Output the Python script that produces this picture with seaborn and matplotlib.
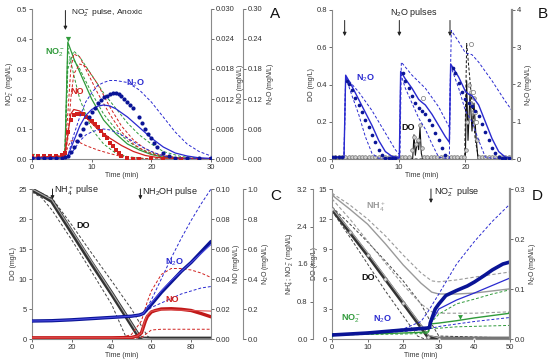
import numpy as np
import pandas as pd
import matplotlib
matplotlib.use("Agg")
import matplotlib.pyplot as plt
from matplotlib.ticker import FormatStrFormatter
import seaborn as sns

sns.set_style("ticks")
plt.rcParams['font.family'] = ['Liberation Sans', 'DejaVu Sans']
plt.rcParams['mathtext.fontset'] = 'custom'
plt.rcParams['mathtext.rm'] = 'Liberation Sans'
plt.rcParams['mathtext.it'] = 'Liberation Sans'
plt.rcParams['mathtext.bf'] = 'Liberation Sans:bold'

GREEN = '#2f9a3a'
RED = '#d0201e'
BLUE = '#2a2ad0'
DBLUE = '#0a1496'
GRAY = '#9a9a9a'
BLACK = '#111111'

# ---------------- Panel A (NO2- pulse, anoxic) ----------------
A_t_no2_meas = [0, 6]
A_no2_meas = [0.01, 0.40]
A_t_mod = [0, 5.5, 6, 7, 8, 10, 12, 14, 16, 18, 20, 22, 25, 30]
A_no2_mod = [0.005, 0.005, 0.39, 0.335, 0.29, 0.20, 0.13, 0.085, 0.05, 0.03, 0.015, 0.006, 0.002, 0]
A_no2_hi = [0.005, 0.005, 0.30, 0.36, 0.34, 0.28, 0.22, 0.17, 0.12, 0.08, 0.05, 0.025, 0.008, 0]
A_no2_mid = [0.005, 0.005, 0.33, 0.33, 0.30, 0.22, 0.15, 0.10, 0.06, 0.035, 0.02, 0.01, 0.003, 0]
A_no2_lo = [0.005, 0.005, 0.37, 0.28, 0.20, 0.10, 0.05, 0.02, 0.008, 0.003, 0, 0, 0, 0]

A_t_no_meas = [0, 1, 2, 3, 4, 5, 5.5, 6, 6.5, 7, 7.5, 8, 8.5, 9, 9.5, 10, 10.5, 11, 11.5, 12,
               12.5, 13, 13.5, 14, 14.5, 15, 16, 17, 18, 20, 22, 25, 28, 30]
A_no_meas = [0.0006, 0.0006, 0.0006, 0.0006, 0.0007, 0.0009, 0.0012, 0.0054, 0.0078, 0.0087,
             0.009, 0.009, 0.0089, 0.0084, 0.0081, 0.0075, 0.0069, 0.0063, 0.0057, 0.0048,
             0.0042, 0.0033, 0.0027, 0.0018, 0.0012, 0.0006, 0.0003, 0.0001, 0, 0, 0, 0, 0, 0]
A_t_no_mod = [0, 5.5, 6, 6.5, 7, 8, 9, 11, 13, 15, 17, 19, 21, 24, 30]
A_no_mod = [0.0003, 0.0006, 0.0048, 0.009, 0.0099, 0.0096, 0.0084, 0.006, 0.0042, 0.0027,
            0.0015, 0.0007, 0.0003, 0.0001, 0]
A_no_hi = [0.0003, 0.0006, 0.009, 0.018, 0.021, 0.0204, 0.018, 0.0132, 0.009, 0.0054,
           0.003, 0.0015, 0.0007, 0.0002, 0]
A_no_mid = [0.0003, 0.0006, 0.004, 0.012, 0.017, 0.019, 0.0185, 0.015, 0.0105, 0.0066,
            0.0038, 0.002, 0.001, 0.0003, 0]
A_no_lo = [0.0003, 0.0006, 0.0024, 0.0036, 0.0037, 0.0033, 0.0027, 0.0018, 0.0011, 0.0005,
           0.0002, 0.0001, 0, 0, 0]

A_t_n2o_meas = [0, 1, 2, 3, 4, 5, 5.5, 6, 6.5, 7, 7.5, 8, 8.5, 9, 9.5, 10, 10.5, 11, 11.5, 12,
                12.5, 13, 13.5, 14, 14.5, 15, 15.5, 16, 16.5, 17, 18, 18.5, 19, 19.5, 20, 20.5,
                21, 22, 23, 24, 26, 28, 30]
A_n2o_meas = [0.003, 0.003, 0.003, 0.003, 0.003, 0.003, 0.0036, 0.006, 0.015, 0.024, 0.036,
              0.048, 0.06, 0.072, 0.084, 0.093, 0.102, 0.111, 0.117, 0.123, 0.126, 0.129, 0.132,
              0.132, 0.129, 0.126, 0.12, 0.114, 0.108, 0.102, 0.084, 0.072, 0.06, 0.051, 0.042,
              0.033, 0.024, 0.012, 0.006, 0.003, 0.0024, 0.0024, 0.0024]
A_t_n2o_mod = [0, 5.5, 6, 7, 8, 9, 10, 11, 12, 13, 14, 16, 18, 20, 22, 24, 26, 28, 30]
A_n2o_mod = [0.0018, 0.0018, 0.006, 0.036, 0.066, 0.087, 0.099, 0.1056, 0.108, 0.1062, 0.1008,
             0.084, 0.063, 0.042, 0.024, 0.012, 0.006, 0.0024, 0.0012]
A_n2o_hi = [0.0018, 0.0018, 0.006, 0.048, 0.084, 0.114, 0.132, 0.147, 0.153, 0.157, 0.157,
            0.153, 0.138, 0.114, 0.084, 0.054, 0.03, 0.015, 0.006]
A_n2o_lo = [0.0018, 0.0018, 0.003, 0.018, 0.036, 0.048, 0.054, 0.0582, 0.06, 0.0582, 0.054,
            0.042, 0.027, 0.015, 0.006, 0.0024, 0.0012, 0.0006, 0]

# ---------------- Panel B (N2O pulses) ----------------
B_t_mod = [0, 1.8, 2.05, 3, 4, 5, 6, 7, 8, 9, 10.1, 10.3, 11, 12, 13, 13.5, 14, 15, 16, 17,
           17.6, 17.8, 19, 20, 20.5, 21, 22, 23, 24, 25, 26, 27]
B_n2o_mod = [0.05, 0.05, 2.25, 1.95, 1.6, 1.25, 0.9, 0.5, 0.2, 0.07, 0.04, 2.35, 2.15, 1.9, 1.6,
             1.52, 1.45, 1.2, 0.9, 0.6, 0.45, 2.55, 2.2, 1.82, 1.74, 1.7, 1.45, 1.0, 0.55, 0.2,
             0.05, 0.03]
B_t_meas = [0, 0.5, 1, 1.5, 2.3, 2.6, 3, 3.5, 4, 4.5, 5, 5.5, 6, 6.5, 7, 7.5, 8, 8.5, 9, 9.5,
            10.6, 11, 11.5, 12, 12.5, 13, 13.5, 14, 14.5, 15, 15.5, 16, 16.5, 17,
            18.1, 18.5, 19, 19.5, 20, 20.5, 21, 21.5, 22, 22.5, 23, 23.5, 24, 24.5, 25, 25.5, 26, 26.5]
B_n2o_meas = [0.05, 0.05, 0.05, 0.05, 2.1, 2.0, 1.85, 1.65, 1.45, 1.25, 1.05, 0.85, 0.65, 0.45,
              0.25, 0.1, 0.03, 0.02, 0.02, 0.02,
              2.3, 2.1, 1.9, 1.7, 1.5, 1.38, 1.3, 1.2, 1.05, 0.9, 0.7, 0.5, 0.3, 0.12,
              2.45, 2.3, 2.05, 1.8, 1.6, 1.5, 1.42, 1.3, 1.15, 0.95, 0.72, 0.5, 0.3, 0.15, 0.05,
              0.02, 0.02, 0.02]
B_t_hi = [0, 1.8, 2.05, 4, 6, 8, 9.5, 10.2, 10.4, 12, 14, 16, 17.6, 17.9, 19, 20, 21, 22, 24, 26, 27]
B_n2o_hi = [0.05, 0.05, 2.2, 1.8, 1.3, 0.7, 0.25, 0.1, 2.6, 2.25, 1.9, 1.4, 0.85, 3.45, 3.15,
            2.85, 2.8, 2.6, 2.1, 1.55, 1.3]
B_t_lo = [0, 1.8, 2.05, 3, 4, 5, 6, 7, 10.1, 10.3, 11, 12, 13, 14, 15, 16, 17, 17.6, 17.8, 19,
          20, 21, 22, 23, 24, 27]
B_n2o_lo = [0.05, 0.05, 2.2, 1.7, 1.2, 0.6, 0.15, 0.02, 0.02, 2.3, 1.9, 1.5, 1.1, 0.8, 0.4, 0.05,
            0.02, 0.02, 2.5, 1.9, 1.3, 1.0, 0.5, 0.05, 0.02, 0.02]
B_t_do = [0, 0.5, 1, 1.5, 2, 2.5, 3, 3.5, 4, 4.5, 5, 5.5, 6, 6.5, 7, 7.5, 8, 8.5, 9, 9.5, 10,
          10.5, 11, 11.5, 12.0, 12.3, 12.6, 12.9, 13.2, 13.5, 13.8, 14.3, 14.8, 15.3, 15.8, 16.3,
          16.8, 17.3, 17.8, 18.3, 18.8, 19.3, 19.8, 20.1, 20.3, 20.5, 20.7, 20.9, 21.1, 21.3,
          21.5, 21.7, 22.0, 22.5, 23, 23.5, 24, 24.5, 25, 25.5, 26, 26.5]
B_do_meas = [0.01] * 24 + [0.05, 0.12, 0.08, 0.10, 0.18, 0.06, 0.01] + [0.01] * 12 + \
            [0.05, 0.2, 0.4, 0.3, 0.36, 0.25, 0.33, 0.2, 0.1] + [0.01] * 10
B_t_do_mod = [0, 12.1, 12.3, 12.5, 12.8, 13.0, 13.2, 13.4, 13.6, 20.0, 20.2, 20.4, 20.7, 21.0,
              21.3, 21.6, 21.9, 27]
B_do_mod = [0, 0, 0.13, 0.02, 0.1, 0.05, 0.17, 0.03, 0, 0, 0.42, 0.1, 0.35, 0.15, 0.3, 0.12, 0, 0]
B_t_do_hi = [0, 19.9, 20.2, 20.5, 21.0, 21.5, 22, 27]
B_do_hi = [0, 0, 0.62, 0.5, 0.3, 0.1, 0, 0]
B_t_oc = [13.6, 20.8, 21.1, 21.4, 21.6]
B_do_oc = [0.33, 0.62, 0.36, 0.25, 0.2]

# ---------------- Panel C (NH4+ then NH2OH pulse) ----------------
C_t_do = [0, 5, 10, 20, 30, 40, 50, 54, 56, 60, 70, 80, 90]
C_do_meas = [24.9, 24.0, 23.0, 17.8, 12.6, 7.6, 2.4, 0.3, 0.05, 0.05, 0.05, 0.05, 0.05]
C_do_mod = [25.0, 24.1, 23.2, 18.1, 12.9, 7.8, 2.6, 0.5, 0.1, 0, 0, 0, 0]
C_t_do_hi = [0, 10, 20, 30, 40, 50, 58, 60, 90]
C_do_hi = [25, 23.5, 19, 14.3, 9.7, 5, 0.5, 0, 0]
C_t_do_lo = [0, 5, 10, 20, 30, 40, 47, 50, 90]
C_do_lo = [24.5, 23.5, 21.5, 16.5, 11.2, 5.8, 0.5, 0, 0]
C_t_n2o = [0, 10, 20, 30, 40, 50, 54, 56, 58, 60, 65, 70, 75, 80, 85, 90]
C_n2o_meas = [0.12, 0.122, 0.128, 0.136, 0.144, 0.152, 0.16, 0.17, 0.2, 0.23, 0.31, 0.38, 0.45,
              0.51, 0.58, 0.65]
C_n2o_mod = [0.12, 0.122, 0.128, 0.136, 0.144, 0.152, 0.16, 0.17, 0.21, 0.24, 0.32, 0.39, 0.45,
             0.51, 0.57, 0.63]
C_t_n2o_d = [50, 56, 60, 65, 70, 75, 80, 85, 90]
C_n2o_hi = [0.15, 0.17, 0.26, 0.40, 0.54, 0.67, 0.79, 0.90, 1.0]
C_n2o_lo = [0.15, 0.17, 0.21, 0.24, 0.27, 0.30, 0.32, 0.34, 0.35]
C_t_no = [0, 10, 20, 30, 40, 50, 53, 55, 56, 57, 58, 60, 62, 65, 70, 75, 80, 85, 90]
C_no_meas = [0.0008, 0.0008, 0.0008, 0.0008, 0.0008, 0.001, 0.002, 0.004, 0.008, 0.012, 0.015,
             0.018, 0.019, 0.02, 0.0202, 0.0198, 0.019, 0.017, 0.0148]
C_no_mod = [0.0008, 0.0008, 0.0008, 0.0008, 0.0008, 0.001, 0.002, 0.004, 0.009, 0.013, 0.016,
            0.0185, 0.019, 0.0195, 0.0195, 0.0192, 0.019, 0.0188, 0.0186]
C_t_no_hi = [45, 50, 55, 58, 60, 65, 70, 75, 80, 85, 90]
C_no_hi = [0.001, 0.003, 0.012, 0.025, 0.032, 0.043, 0.047, 0.047, 0.046, 0.044, 0.041]
C_t_no_lo = [50, 55, 58, 60, 65, 70, 80, 90]
C_no_lo = [0.0005, 0.001, 0.004, 0.006, 0.0065, 0.0065, 0.0065, 0.0065]

# ---------------- Panel D (NO2- pulse, aerobic) ----------------
D_t_do = [0, 5, 10, 15, 20, 25, 27, 30, 40, 50]
D_do_meas = [13.0, 10.7, 8.4, 6.0, 3.6, 1.2, 0.2, 0.05, 0.05, 0.05]
D_do_mod = [13.1, 10.9, 8.6, 6.2, 3.8, 1.4, 0.4, 0.1, 0.1, 0.1]
D_t_do_hi = [0, 5, 10, 15, 20, 25, 28, 30, 50]
D_do_hi = [13.2, 11.5, 9.7, 7.8, 5.8, 3.5, 1.5, 0.3, 0.1]
D_t_do_lo = [0, 5, 10, 15, 20, 24, 26, 50]
D_do_lo = [12.8, 10.2, 7.5, 4.8, 2.3, 0.3, 0, 0]
D_t_n = [0, 5, 10, 15, 20, 25, 28, 30, 35, 40, 50]
D_nh4_mod = [3.07, 2.77, 2.45, 2.03, 1.58, 1.19, 1.0, 0.96, 0.96, 0.98, 1.07]
D_nh4_hi = [3.11, 2.86, 2.56, 2.2, 1.79, 1.41, 1.24, 1.22, 1.26, 1.32, 1.43]
D_nh4_lo = [2.99, 2.56, 2.09, 1.62, 1.15, 0.75, 0.58, 0.55, 0.55, 0.55, 0.58]
D_t_nh4_meas = [0]
D_nh4_meas = [3.1]
D_t_no2 = [0, 10, 20, 27, 27.5, 30, 35, 40, 45, 50]
D_no2_mod = [0.085, 0.107, 0.128, 0.149, 0.32, 0.34, 0.39, 0.45, 0.5, 0.55]
D_no2_hi = [0.085, 0.128, 0.171, 0.213, 0.32, 0.53, 0.75, 0.85, 0.96, 1.05]
D_no2_lo = [0.085, 0.096, 0.107, 0.117, 0.23, 0.23, 0.26, 0.27, 0.28, 0.29]
D_t_no2_meas = [0, 36, 50]
D_no2_meas = [0.085, 0.47, 0.53]
D_t_n2o = [0, 5, 10, 15, 20, 25, 27, 27.4, 27.6, 29, 30, 32, 35, 38, 40, 43, 45, 48, 50]
D_n2o_meas = [0.008, 0.01, 0.012, 0.015, 0.018, 0.021, 0.022, 0.023, 0.032, 0.06, 0.07, 0.087,
              0.097, 0.106, 0.114, 0.128, 0.138, 0.15, 0.154]
D_t_n2o_m = [0, 20, 27, 28, 30, 35, 40, 45, 50]
D_n2o_mod = [0.008, 0.018, 0.022, 0.035, 0.06, 0.078, 0.092, 0.107, 0.122]
D_t_n2o_hi = [0, 10, 20, 25, 27, 30, 35, 40, 45, 50]
D_n2o_hi = [0.008, 0.012, 0.02, 0.035, 0.055, 0.09, 0.15, 0.195, 0.235, 0.27]
D_t_n2o_lo = [0, 20, 27, 30, 40, 50]
D_n2o_lo = [0.008, 0.015, 0.02, 0.025, 0.035, 0.043]

# ---------------- helpers ----------------
W, H = 554, 364


def rect(l, t, r, b):
    return [l / W, 1 - b / H, (r - l) / W, (b - t) / H]


DASH = (0, (3, 2))


def line(ax, x, y, color, ls='-', lw=0.9, z=2):
    sns.lineplot(x=x, y=y, ax=ax, color=color, linestyle=ls, linewidth=lw,
                 estimator=None, sort=False, legend=False, zorder=z)


def pts(ax, x, y, color, marker='o', s=5, fc=None, z=3):
    sns.scatterplot(x=x, y=y, ax=ax, color=color if fc is None else fc, marker=marker, s=s,
                    edgecolor=color, linewidth=0.5 if fc is not None else 0, legend=False,
                    zorder=z)


def style_base(ax):
    ax.spines['top'].set_visible(False)
    ax.spines['right'].set_visible(False)
    for s in ('left', 'bottom'):
        ax.spines[s].set_color('#8a8a8a')
        ax.spines[s].set_linewidth(0.8)
    ax.tick_params(labelsize=5.5, length=2, width=0.6, colors='#555', labelcolor='#333', pad=1.5)
    ax.set_xlabel('Time (min)', fontsize=5, labelpad=0.5, color='#333')


def style_twin(ax, side='right', lw=0.8):
    for s in ('top', 'bottom', 'left', 'right'):
        ax.spines[s].set_visible(s == side)
    ax.spines[side].set_color('#8a8a8a')
    ax.spines[side].set_linewidth(lw)
    ax.tick_params(labelsize=5.5, length=2, width=0.6, colors='#555', labelcolor='#333', pad=1.5)


def ylab(ax, txt, pad=1.5):
    ax.set_ylabel(txt, fontsize=5, labelpad=pad, color='#333')


def arrow(ax, x, y0, y1):
    ax.annotate('', xy=(x, y1), xytext=(x, y0),
                arrowprops=dict(arrowstyle='-|>', lw=0.7, color='#222',
                                mutation_scale=5, shrinkA=0, shrinkB=0))


fig = plt.figure(figsize=(W / 100, H / 100), dpi=100)

# ================= Panel A =================
axA = fig.add_axes(rect(32, 9, 211, 159))
axA_no = axA.twinx()
axA_n2o = axA.twinx()
axA_n2o.spines['right'].set_position(('outward', 23))
style_base(axA); style_twin(axA_no); style_twin(axA_n2o)
axA.set_xlim(0, 30); axA.set_ylim(0, 0.5)
axA.set_xticks([0, 10, 20, 30]); axA.set_yticks(np.arange(0, 0.51, 0.1))
axA.yaxis.set_major_formatter(FormatStrFormatter('%.1f'))
axA_no.set_ylim(0, 0.03); axA_no.set_yticks(np.arange(0, 0.0301, 0.006))
axA_no.yaxis.set_major_formatter(FormatStrFormatter('%.3f'))
axA_n2o.set_ylim(0, 0.3); axA_n2o.set_yticks(np.arange(0, 0.301, 0.06))
axA_n2o.yaxis.set_major_formatter(FormatStrFormatter('%.2f'))
ylab(axA, 'NO$_2^-$ (mgN/L)'); ylab(axA_no, 'NO (mgN/L)'); ylab(axA_n2o, 'N$_2$O (mgN/L)')

line(axA, A_t_mod, A_no2_hi, GREEN, DASH, 0.7)
line(axA, A_t_mod, A_no2_mid, GREEN, DASH, 0.7)
line(axA, A_t_mod, A_no2_lo, GREEN, DASH, 0.7)
line(axA, A_t_mod, A_no2_mod, GREEN, '-', 0.9)
pts(axA, A_t_no2_meas, A_no2_meas, GREEN, marker='v', s=14)
line(axA_no, A_t_no_mod, A_no_hi, RED, DASH, 0.7)
line(axA_no, A_t_no_mod, A_no_mid, RED, DASH, 0.7)
line(axA_no, A_t_no_mod, A_no_lo, RED, DASH, 0.7)
line(axA_no, A_t_no_mod, A_no_mod, RED, '-', 0.9)
pts(axA_no, A_t_no_meas, A_no_meas, RED, marker='s', s=7)
line(axA_n2o, A_t_n2o_mod, A_n2o_hi, BLUE, DASH, 0.7)
line(axA_n2o, A_t_n2o_mod, A_n2o_lo, BLUE, DASH, 0.7)
line(axA_n2o, A_t_n2o_mod, A_n2o_mod, BLUE, '-', 0.9)
pts(axA_n2o, A_t_n2o_meas, A_n2o_meas, DBLUE, marker='o', s=9)
arrow(axA_n2o, 5.6, 0.297, 0.258)
axA_n2o.text(6.5, 0.292, 'NO$_2^-$ pulse, Anoxic', fontsize=6, va='center', color='#222')
axA_n2o.text(2.2, 0.212, 'NO$_2^-$', color=GREEN, fontsize=6.5, fontweight='bold', va='center')
axA_n2o.text(6.4, 0.134, 'NO', color=RED, fontsize=6.5, fontweight='bold', va='center')
axA_n2o.text(15.8, 0.152, 'N$_2$O', color=BLUE, fontsize=6.5, fontweight='bold', va='center')

# ================= Panel B =================
axB = fig.add_axes(rect(332, 10, 512, 159))
axB_n2o = axB.twinx()
style_base(axB); style_twin(axB_n2o, lw=1.6)
axB.set_xlim(0, 27); axB.set_ylim(0, 0.8)
axB.set_xticks([0, 10, 20]); axB.set_yticks(np.arange(0, 0.81, 0.2))
axB.yaxis.set_major_formatter(FormatStrFormatter('%.1f'))
axB_n2o.set_ylim(0, 4); axB_n2o.set_yticks([0, 1, 2, 3, 4])
ylab(axB, 'DO (mg/L)'); ylab(axB_n2o, 'N$_2$O (mgN/L)')

line(axB, B_t_do_mod, B_do_mod, BLACK, '-', 0.8)
line(axB, B_t_do_hi, B_do_hi, BLACK, DASH, 0.7)
pts(axB, B_t_do, B_do_meas, '#777', marker='o', s=7, fc='#cfcfcf')
pts(axB, B_t_oc, B_do_oc, '#777', marker='o', s=9, fc='white')
line(axB_n2o, B_t_hi, B_n2o_hi, BLUE, DASH, 0.7)
line(axB_n2o, B_t_lo, B_n2o_lo, BLUE, DASH, 0.7)
line(axB_n2o, B_t_mod, B_n2o_mod, BLUE, '-', 1.0)
pts(axB_n2o, B_t_meas, B_n2o_meas, DBLUE, marker='o', s=7)
for xa in (1.9, 10.1, 17.7):
    arrow(axB_n2o, xa, 3.72, 3.3)
axB_n2o.text(12.2, 3.92, 'N$_2$O pulses', fontsize=6.5, ha='center', va='center', color='#222')
axB_n2o.text(3.6, 2.18, 'N$_2$O', color=BLUE, fontsize=6.5, fontweight='bold', va='center')
axB_n2o.text(10.4, 0.85, 'DO', color=BLACK, fontsize=6.5, fontweight='bold', va='center')

# ================= Panel C =================
axC = fig.add_axes(rect(32, 189, 211, 339))
axC_no = axC.twinx()
axC_n2o = axC.twinx()
axC_n2o.spines['right'].set_position(('outward', 23))
style_base(axC); style_twin(axC_no); style_twin(axC_n2o)
axC.set_xlim(0, 90); axC.set_ylim(0, 25)
axC.set_xticks([0, 20, 40, 60, 80]); axC.set_yticks([0, 5, 10, 15, 20, 25])
axC_no.set_ylim(0, 0.1); axC_no.set_yticks(np.arange(0, 0.101, 0.02))
axC_no.yaxis.set_major_formatter(FormatStrFormatter('%.2f'))
axC_n2o.set_ylim(0, 1.0); axC_n2o.set_yticks(np.arange(0, 1.01, 0.2))
axC_n2o.yaxis.set_major_formatter(FormatStrFormatter('%.1f'))
ylab(axC, 'DO (mg/L)'); ylab(axC_no, 'NO (mgN/L)'); ylab(axC_n2o, 'N$_2$O (mgN/L)')

line(axC, C_t_do_hi, C_do_hi, '#444', DASH, 0.7)
line(axC, C_t_do_lo, C_do_lo, '#444', DASH, 0.7)
line(axC, C_t_do, C_do_meas, '#333', '-', 3.0)
line(axC, C_t_do, C_do_mod, '#aaaaaa', '-', 0.8)
line(axC_no, C_t_no_hi, C_no_hi, RED, DASH, 0.7)
line(axC_no, C_t_no_lo, C_no_lo, RED, DASH, 0.7)
line(axC_no, C_t_no, C_no_meas, '#c01818', '-', 2.4)
line(axC_no, C_t_no, C_no_mod, '#e05050', '-', 0.8)
line(axC_n2o, C_t_n2o_d, C_n2o_hi, BLUE, DASH, 0.7)
line(axC_n2o, C_t_n2o_d, C_n2o_lo, BLUE, DASH, 0.7)
line(axC_n2o, C_t_n2o, C_n2o_meas, DBLUE, '-', 2.4)
line(axC_n2o, C_t_n2o, C_n2o_mod, '#4a4ae0', '-', 0.8)
arrow(axC_n2o, 10.3, 1.0, 0.93)
axC_n2o.text(11.2, 0.985, 'NH$_4^+$ pulse', fontsize=6.5, va='center', color='#222')
arrow(axC_n2o, 54.5, 1.0, 0.93)
axC_n2o.text(55.4, 0.985, 'NH$_2$OH pulse', fontsize=6.5, va='center', color='#222')
axC_n2o.text(22.5, 0.76, 'DO', color=BLACK, fontsize=6.5, fontweight='bold', va='center')
axC_n2o.text(67, 0.51, 'N$_2$O', color=BLUE, fontsize=6.5, fontweight='bold', va='center')
axC_n2o.text(67, 0.26, 'NO', color=RED, fontsize=6.5, fontweight='bold', va='center')

# ================= Panel D =================
axD = fig.add_axes(rect(332, 189, 510, 339))
axD_n = axD.twinx()
axD_n.yaxis.set_label_position('left'); axD_n.yaxis.set_ticks_position('left')
axD_n.spines['left'].set_position(('outward', 14))
axD_n2o = axD.twinx()
style_base(axD); style_twin(axD_n, side='left'); style_twin(axD_n2o, lw=1.6)
axD.set_xlim(0, 50); axD.set_ylim(0, 15)
axD.set_xticks([0, 10, 20, 30, 40, 50]); axD.set_yticks([0, 3, 6, 9, 12, 15])
axD_n.set_ylim(0, 3.2); axD_n.set_yticks(np.arange(0, 3.21, 0.8))
axD_n.yaxis.set_major_formatter(FormatStrFormatter('%.1f'))
axD_n2o.set_ylim(0, 0.3); axD_n2o.set_yticks([0, 0.1, 0.2, 0.3])
axD_n2o.yaxis.set_major_formatter(FormatStrFormatter('%.1f'))
ylab(axD, 'DO (mg/L)', pad=0.5); ylab(axD_n, 'NH$_4^+$; NO$_2^-$ (mgN/L)', pad=1)
ylab(axD_n2o, 'N$_2$O (mgN/L)')

line(axD, D_t_do_hi, D_do_hi, '#444', DASH, 0.7)
line(axD, D_t_do_lo, D_do_lo, '#444', DASH, 0.7)
line(axD, D_t_do, D_do_meas, '#333', '-', 2.6)
line(axD, D_t_do, D_do_mod, '#aaaaaa', '-', 0.8)
pts(axD, D_t_do, D_do_meas, '#777', marker='o', s=6, fc='#dddddd')
line(axD_n, D_t_n, D_nh4_hi, GRAY, DASH, 0.8)
line(axD_n, D_t_n, D_nh4_lo, GRAY, DASH, 0.8)
line(axD_n, D_t_n, D_nh4_mod, GRAY, '-', 1.0)
pts(axD_n, D_t_nh4_meas, D_nh4_meas, GRAY, marker='^', s=12)
line(axD_n, D_t_no2, D_no2_hi, GREEN, DASH, 0.7)
line(axD_n, D_t_no2, D_no2_lo, GREEN, DASH, 0.7)
line(axD_n, D_t_no2, D_no2_mod, GREEN, '-', 1.0)
pts(axD_n, D_t_no2_meas, D_no2_meas, GREEN, marker='v', s=12)
line(axD_n2o, D_t_n2o_hi, D_n2o_hi, BLUE, DASH, 0.7)
line(axD_n2o, D_t_n2o_lo, D_n2o_lo, BLUE, DASH, 0.7)
line(axD_n2o, D_t_n2o_m, D_n2o_mod, BLUE, '-', 0.9)
line(axD_n2o, D_t_n2o, D_n2o_meas, DBLUE, '-', 2.6)
arrow(axD_n2o, 27.8, 0.3, 0.272)
axD_n2o.text(28.6, 0.293, 'NO$_2^-$ pulse', fontsize=6.5, va='center', color='#222')
axD_n2o.text(9.6, 0.265, 'NH$_4^+$', color=GRAY, fontsize=6.5, fontweight='bold', va='center')
axD_n2o.text(8.2, 0.124, 'DO', color=BLACK, fontsize=6.5, fontweight='bold', va='center')
axD_n2o.text(2.6, 0.04, 'NO$_2^-$', color=GREEN, fontsize=6.5, fontweight='bold', va='center')
axD_n2o.text(11.6, 0.04, 'N$_2$O', color=BLUE, fontsize=6.5, fontweight='bold', va='center')

# panel letters
for lx, ly, lt in ((270, 14, 'A'), (538, 14, 'B'), (270, 196, 'C'), (532, 196, 'D')):
    fig.text(lx / W, 1 - ly / H, lt, fontsize=11, va='center', ha='left', color='#111')

fig.savefig('out.png', dpi=100)
